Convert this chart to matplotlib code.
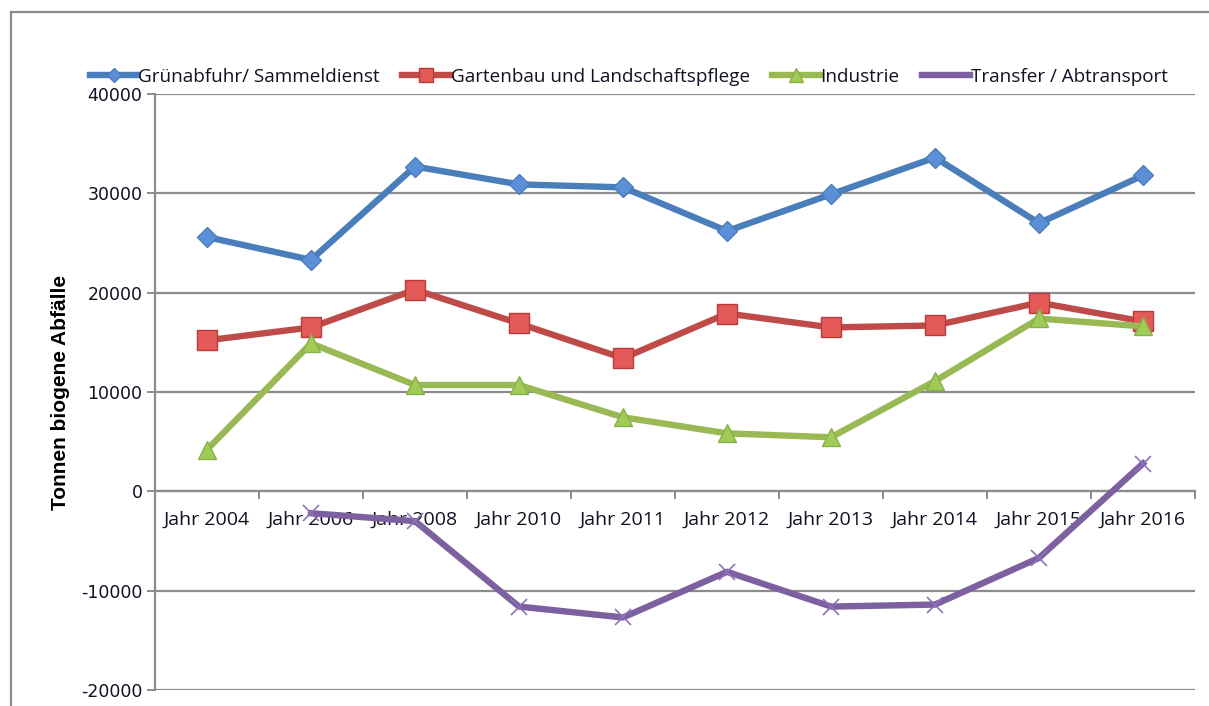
import numpy as np
import matplotlib
matplotlib.use("Agg")
import matplotlib.pyplot as plt
from matplotlib.patches import Rectangle

plt.rcParams["axes.unicode_minus"] = False

# data
years = ["Jahr 2004", "Jahr 2006", "Jahr 2008", "Jahr 2010", "Jahr 2011",
         "Jahr 2012", "Jahr 2013", "Jahr 2014", "Jahr 2015", "Jahr 2016"]
gruen = [25600, 23300, 32700, 30900, 30600, 26200, 29900, 33600, 27000, 31800]
garten = [15200, 16500, 20300, 16900, 13400, 17900, 16500, 16700, 19000, 17100]
industrie = [4200, 14900, 10700, 10700, 7450, 5840, 5440, 11100, 17400, 16600]
transfer = [np.nan, -2200, -3000, -11600, -12700, -8100, -11600, -11400, -6700, 2800]

series_names = ["Grünabfuhr/ Sammeldienst", "Gartenbau und Landschaftspflege",
                "Industrie", "Transfer / Abtransport"]

GRID = "#8c8c8c"
TEXT = "#111122"

fig = plt.figure(figsize=(12.09, 7.06), dpi=100)
ax = fig.add_axes([155 / 1209, 1 - 690 / 706, 1040 / 1209, 596 / 706])

# outer chart frame (only top/left visible in the crop)
fig.patches.append(Rectangle((11 / 1209, -0.2), 1.2, 1.2 - 12 / 706,
                             transform=fig.transFigure, fill=False,
                             edgecolor=GRID, linewidth=1.6))

x = np.arange(len(years))
lw = 4.6
ax.plot(x, gruen, color="#4a7ebb", lw=lw, marker="D", markersize=10,
        markerfacecolor="#5b8fd8", markeredgecolor="#4a7ebb", markeredgewidth=1,
        label=series_names[0], zorder=4)
ax.plot(x, garten, color="#be4b48", lw=lw, marker="s", markersize=14,
        markerfacecolor="#e45a58", markeredgecolor="#b83c3a", markeredgewidth=1,
        label=series_names[1], zorder=3)
ax.plot(x, industrie, color="#98b954", lw=lw, marker="^", markersize=13,
        markerfacecolor="#9fcb56", markeredgecolor="#8ab04a", markeredgewidth=1,
        label=series_names[2], zorder=3)
ax.plot(x, transfer, color="#7d60a0", lw=lw, label=series_names[3], zorder=3)
ax.plot(x, transfer, ls="none", marker="x", markersize=11, markeredgewidth=1.2,
        color="#8e72b8", zorder=4)

ax.set_xlim(-0.5, len(years) - 0.5)
ax.set_ylim(-20000, 40000)
ax.set_yticks(np.arange(-20000, 40001, 10000))
ax.yaxis.grid(True, color=GRID, linewidth=1.6)
ax.set_axisbelow(True)

for side in ["top", "right"]:
    ax.spines[side].set_visible(False)
ax.spines["left"].set_color(GRID)
ax.spines["left"].set_linewidth(1.6)
ax.spines["bottom"].set_position(("data", 0))
ax.spines["bottom"].set_color(GRID)
ax.spines["bottom"].set_linewidth(1.6)

ax.set_xticks(x)
ax.set_xticklabels(years, fontfamily="Open Sans", fontsize=14, color=TEXT)
ax.set_xticks(np.arange(-0.5, len(years)), minor=True)
ax.tick_params(axis="x", which="major", length=0, pad=14)
ax.tick_params(axis="x", which="minor", length=6, width=1.4, color=GRID)
ax.tick_params(axis="y", length=6, width=1.4, color=GRID, labelsize=12.5,
               labelcolor=TEXT, pad=3)
for lab in ax.get_yticklabels():
    lab.set_fontfamily("DejaVu Sans")

ax.set_ylabel("Tonnen biogene Abfälle", fontsize=15, fontweight="bold",
              family=["Liberation Sans", "DejaVu Sans"], labelpad=8,
              color="black")

leg = fig.legend(loc="center", bbox_to_anchor=(0.52, 1 - 77 / 706), ncol=4,
                 frameon=False, prop={"family": "Open Sans", "size": 13.6},
                 handlelength=2.5, handletextpad=0.05, columnspacing=1.2,
                 markerscale=0.75)
for t in leg.get_texts():
    t.set_color(TEXT)

fig.savefig("out.png", dpi=100)
